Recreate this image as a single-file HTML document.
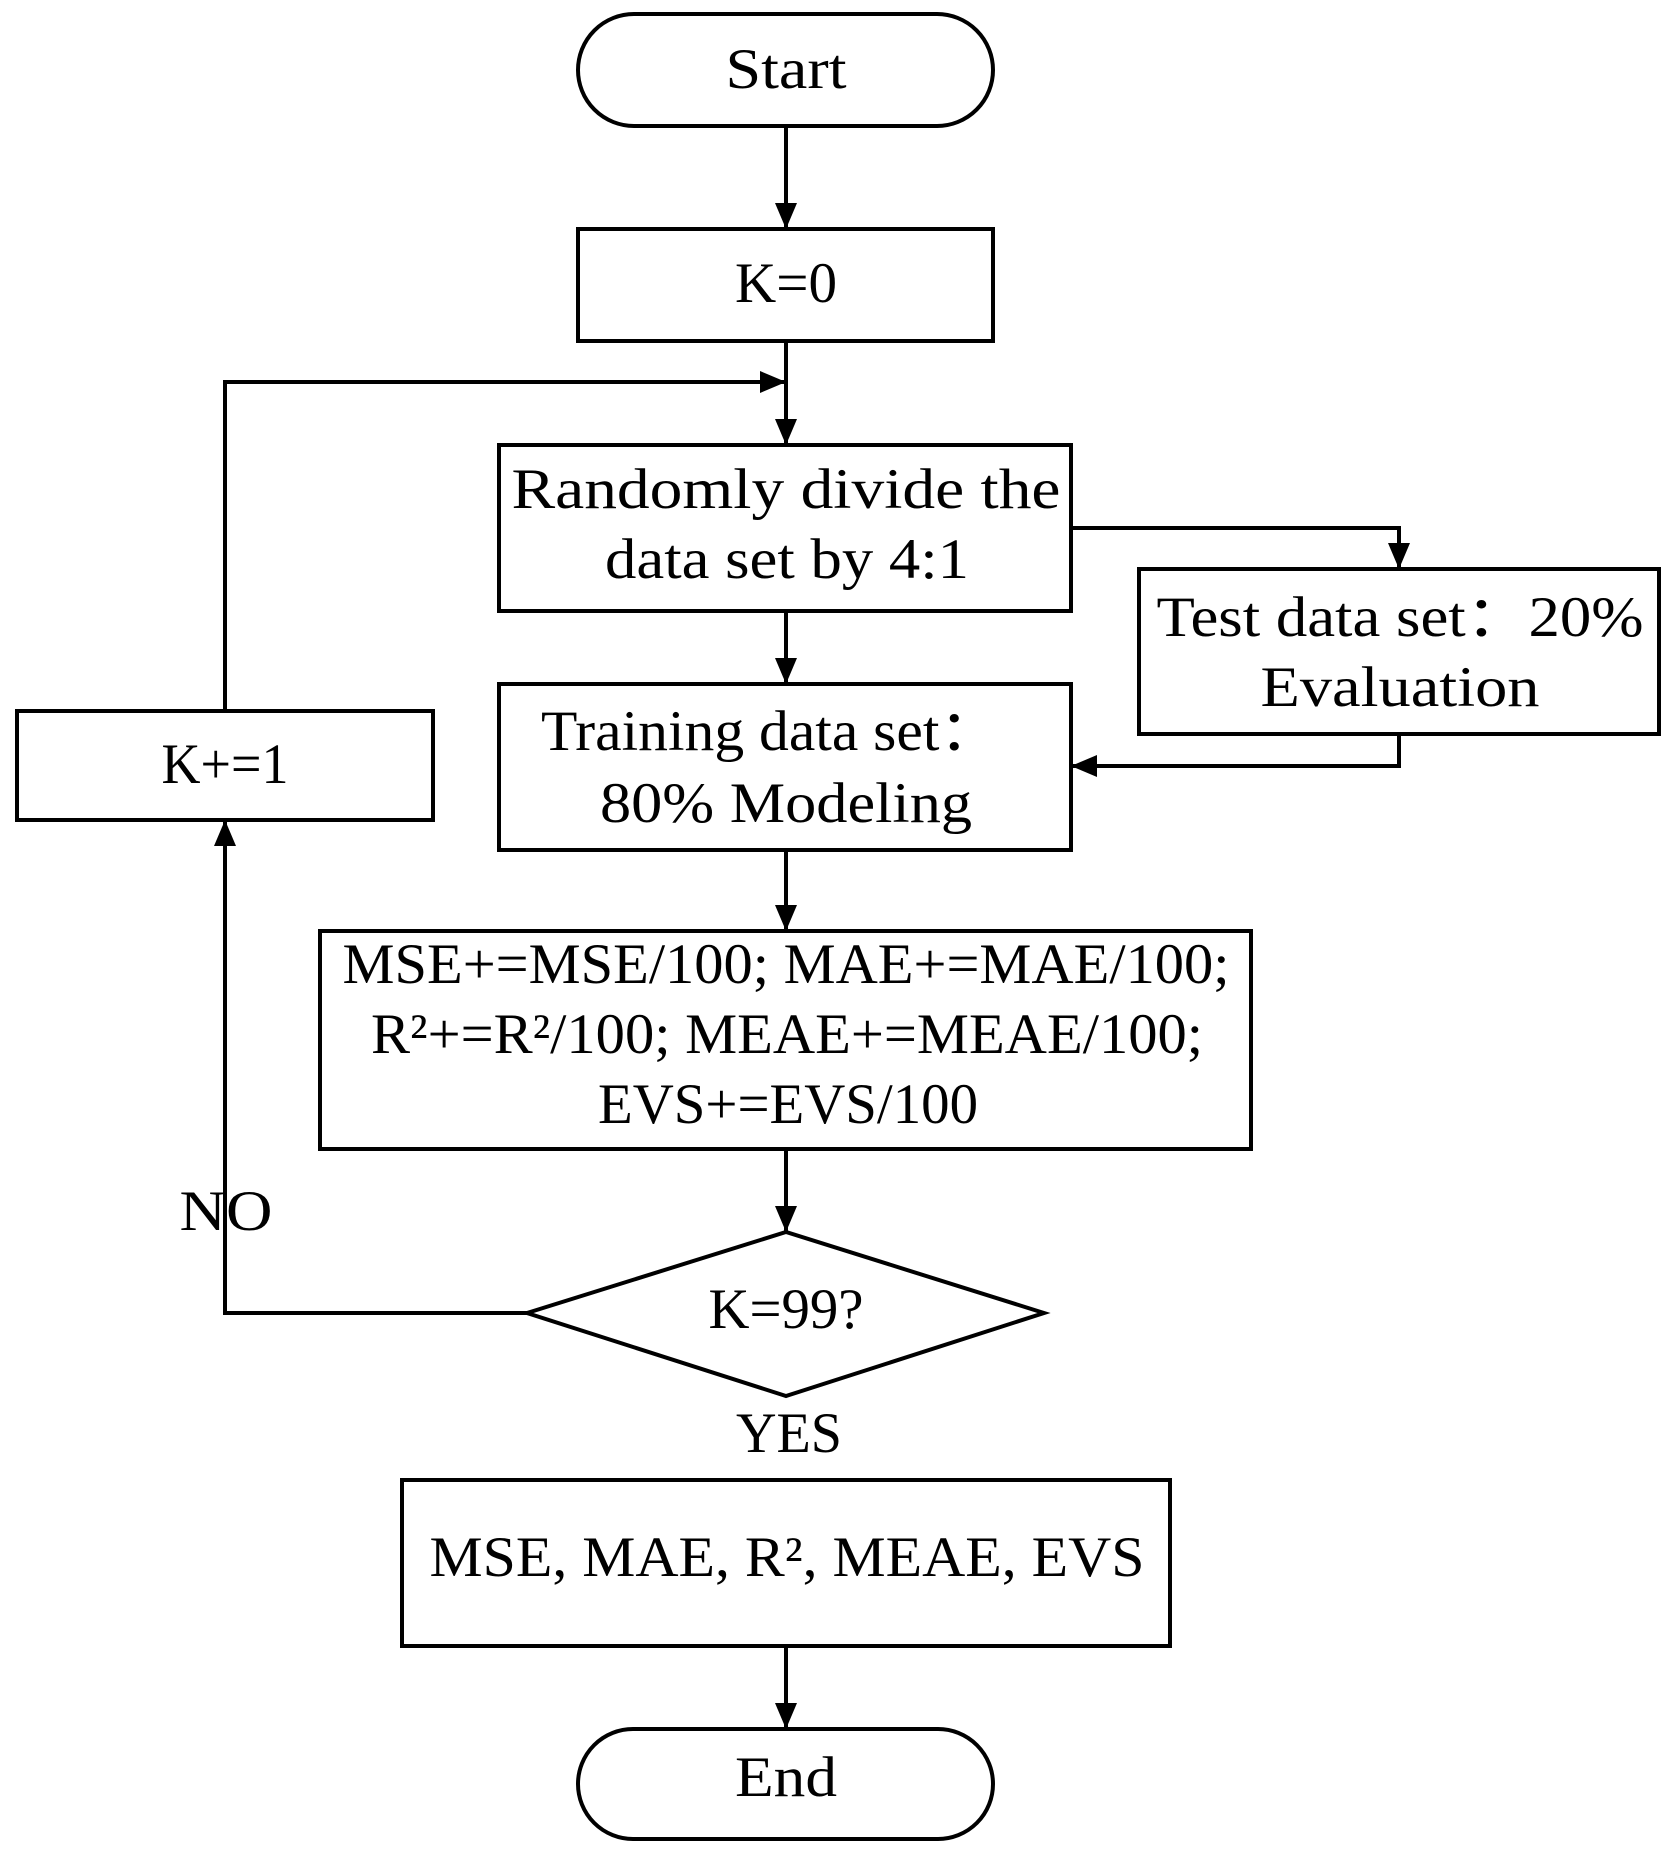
<!DOCTYPE html>
<html><head><style>body{margin:0;background:#fff}svg{display:block}</style></head><body>
<svg width="1672" height="1850" viewBox="0 0 1672 1850" xmlns="http://www.w3.org/2000/svg" font-family="Liberation Serif, serif" font-size="57" text-anchor="middle">
<defs>
<marker id="b" markerWidth="26" markerHeight="26" refX="26" refY="13" orient="auto" markerUnits="userSpaceOnUse" viewBox="0 0 26 26"><path d="M0,2 L26,13 L0,24z" fill="#000"/></marker></defs>
<g stroke="#000" stroke-width="4" fill="none">
<rect x="578" y="14" width="415" height="112" rx="56"/>
<rect x="578" y="229" width="415" height="112"/>
<rect x="499" y="445" width="572" height="166"/>
<rect x="1139" y="569" width="520" height="165"/>
<rect x="499" y="684" width="572" height="166"/>
<rect x="17" y="711" width="416" height="109"/>
<rect x="320" y="931" width="931" height="218"/>
<polygon points="527,1313 786,1232 1044,1313 786,1396"/>
<rect x="402" y="1480" width="768" height="166"/>
<rect x="578" y="1729" width="415" height="110" rx="55"/>
<g marker-end="url(#b)">
<line x1="786" y1="126" x2="786" y2="229"/>
<line x1="786" y1="341" x2="786" y2="445"/>
<polyline points="225,711 225,382 786,382"/>
<polyline points="1071,528 1399,528 1399,569"/>
<line x1="786" y1="611" x2="786" y2="684"/>
<polyline points="1399,734 1399,766 1071,766"/>
<line x1="786" y1="850" x2="786" y2="931"/>
<line x1="786" y1="1149" x2="786" y2="1232"/>
<polyline points="527,1313 225,1313 225,820"/>
<line x1="786" y1="1646" x2="786" y2="1729"/>
</g>
</g>
<g>
<text x="786" y="88" textLength="121" lengthAdjust="spacingAndGlyphs">Start</text>
<text x="786" y="302" textLength="102" lengthAdjust="spacingAndGlyphs">K=0</text>
<text x="786" y="508" textLength="549" lengthAdjust="spacingAndGlyphs">Randomly divide the</text>
<text x="787" y="578" textLength="364" lengthAdjust="spacingAndGlyphs">data set by 4:1</text>
<text x="1400" y="636" textLength="487" lengthAdjust="spacingAndGlyphs">Test data set：20%</text>
<text x="1400" y="706" textLength="279" lengthAdjust="spacingAndGlyphs">Evaluation</text>
<text x="770" y="750" textLength="458" lengthAdjust="spacingAndGlyphs">Training data set：</text>
<text x="786" y="822" textLength="372" lengthAdjust="spacingAndGlyphs">80% Modeling</text>
<text x="225" y="783" textLength="127" lengthAdjust="spacingAndGlyphs">K+=1</text>
<text x="786" y="983" textLength="887" lengthAdjust="spacingAndGlyphs">MSE+=MSE/100; MAE+=MAE/100;</text>
<text x="787" y="1053" textLength="832" lengthAdjust="spacingAndGlyphs">R²+=R²/100; MEAE+=MEAE/100;</text>
<text x="788" y="1123" textLength="380" lengthAdjust="spacingAndGlyphs">EVS+=EVS/100</text>
<text x="786" y="1328" textLength="155" lengthAdjust="spacingAndGlyphs">K=99?</text>
<text x="226" y="1230" textLength="93" lengthAdjust="spacingAndGlyphs">NO</text>
<text x="789" y="1452" textLength="106" lengthAdjust="spacingAndGlyphs">YES</text>
<text x="787" y="1576" textLength="715" lengthAdjust="spacingAndGlyphs">MSE, MAE, R², MEAE, EVS</text>
<text x="786" y="1796" textLength="102" lengthAdjust="spacingAndGlyphs">End</text>
</g>
</svg>
</body></html>
